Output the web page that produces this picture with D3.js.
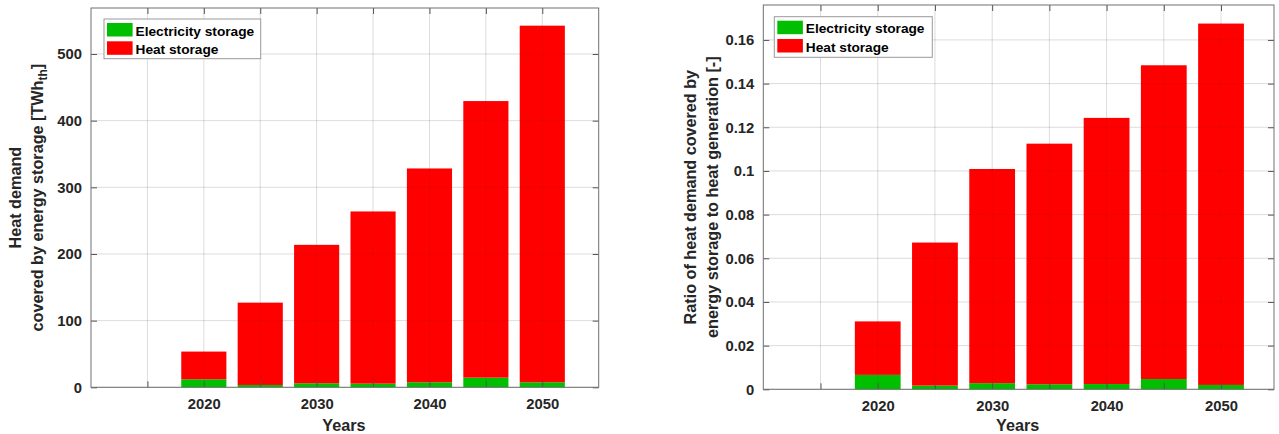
<!DOCTYPE html>
<html>
<head>
<meta charset="utf-8">
<script src="https://cdn.jsdelivr.net/npm/d3@7"></script>
<style>
  html, body { margin: 0; padding: 0; background: #fff; }
  svg { display: block; font-family: "Liberation Sans", Arial, sans-serif; }
  .tick-label { font-weight: bold; fill: #262626; font-size: 14.8px; }
  .axis-title { font-weight: bold; fill: #262626; font-size: 16.2px; }
  .legend-text { font-weight: bold; fill: #000; font-size: 13.7px; }
</style>
</head>
<body>
<svg id="chart" width="1279" height="434"></svg>
<script>
// ---------- data ----------
const years = [2020, 2025, 2030, 2035, 2040, 2045, 2050];
const seriesNames = ["Electricity storage", "Heat storage"];
const seriesColors = ["#00bf00", "#ff0000"];

// Left chart: heat demand covered by energy storage [TWh_th]
const leftElectricity = [12, 3.5, 6, 5.5, 7.5, 14.5, 7.5];
const leftHeat = [41.6, 123.5, 207.7, 258.3, 320.8, 414.9, 535];
const leftYTicks = [0, 100, 200, 300, 400, 500];
const leftYTickLabels = ["0", "100", "200", "300", "400", "500"];

// Right chart: ratio to heat generation [-]
const rightElectricity = [0.0066, 0.0017, 0.0028, 0.0023, 0.0024, 0.0047, 0.0020];
const rightHeat = [0.0245, 0.0655, 0.0981, 0.1102, 0.1219, 0.1437, 0.1655];
const rightYTicks = [0, 0.02, 0.04, 0.06, 0.08, 0.1, 0.12, 0.14, 0.16];
const rightYTickLabels = ["0", "0.02", "0.04", "0.06", "0.08", "0.1", "0.12", "0.14", "0.16"];

const xTicks = [2015, 2020, 2025, 2030, 2035, 2040, 2045, 2050];
const xTickLabels = ["", "2020", "", "2030", "", "2040", "", "2050"];

const svg = d3.select("#chart");

function drawPanel(cfg) {
  const g = svg.append("g");
  const x = d3.scaleLinear().domain(cfg.xDomain).range([cfg.left, cfg.right]);
  const y = d3.scaleLinear().domain(cfg.yDomain).range([cfg.bottom, cfg.top]);
  const barW = (x(2025) - x(2020)) * 0.8;

  const rows = years.map((yr, i) => ({ year: yr, e: cfg.elec[i], h: cfg.heat[i] }));
  const stack = d3.stack().keys(["e", "h"])(rows);

  g.append("rect").attr("x", cfg.left).attr("y", cfg.top)
    .attr("width", cfg.right - cfg.left).attr("height", cfg.bottom - cfg.top)
    .attr("fill", "#fff");

  function grid(op) {
    const gg = g.append("g");
    xTicks.forEach(t => {
      gg.append("line").attr("x1", x(t)).attr("x2", x(t))
        .attr("y1", cfg.top).attr("y2", cfg.bottom)
        .attr("stroke", "#262626").attr("stroke-opacity", op).attr("stroke-width", 1);
    });
    cfg.yTicks.forEach(t => {
      gg.append("line").attr("x1", cfg.left).attr("x2", cfg.right)
        .attr("y1", y(t)).attr("y2", y(t))
        .attr("stroke", "#262626").attr("stroke-opacity", op).attr("stroke-width", 1);
    });
  }
  grid(0.09);

  stack.forEach((layer, li) => {
    g.append("g").selectAll("rect").data(layer).join("rect")
      .attr("x", d => x(d.data.year) - barW / 2)
      .attr("width", barW)
      .attr("y", d => y(d[1]))
      .attr("height", d => y(d[0]) - y(d[1]))
      .attr("fill", seriesColors[li]);
  });

  grid(0.07);

  const tickLen = 6;
  const xAxis = d3.axisBottom(x).tickValues(xTicks)
    .tickFormat((d, i) => xTickLabels[i]).tickSizeInner(-tickLen).tickSizeOuter(0);
  const xg = g.append("g").attr("transform", `translate(0,${cfg.bottom})`).call(xAxis);
  const yAxis = d3.axisLeft(y).tickValues(cfg.yTicks)
    .tickFormat((d, i) => cfg.yLabels[i]).tickSizeInner(-tickLen).tickSizeOuter(0);
  const yg = g.append("g").attr("transform", `translate(${cfg.left},0)`).call(yAxis);
  const xTop = g.append("g").attr("transform", `translate(0,${cfg.top})`)
    .call(d3.axisTop(x).tickValues(xTicks).tickFormat("").tickSizeInner(-tickLen).tickSizeOuter(0));
  const yRight = g.append("g").attr("transform", `translate(${cfg.right},0)`)
    .call(d3.axisRight(y).tickValues(cfg.yTicks).tickFormat("").tickSizeInner(-tickLen).tickSizeOuter(0));

  [xg, yg, xTop, yRight].forEach(a => {
    a.select(".domain").remove();
    a.selectAll(".tick line").attr("stroke", "#555").attr("stroke-width", 1);
    a.selectAll(".tick text").attr("class", "tick-label").attr("fill", "#262626").attr("font-family", null).attr("font-size", null);
  });
  xg.selectAll(".tick text").attr("dy", null).attr("y", 22);
  yg.selectAll(".tick text").attr("x", -9);

  g.append("rect").attr("x", cfg.left).attr("y", cfg.top)
    .attr("width", cfg.right - cfg.left).attr("height", cfg.bottom - cfg.top)
    .attr("fill", "none").attr("stroke", "#707070").attr("stroke-width", 1);

  g.append("text").attr("class", "axis-title").attr("text-anchor", "middle")
    .attr("x", (cfg.left + cfg.right) / 2 - 1).attr("y", 431).text("Years");

  const cy = (cfg.top + cfg.bottom) / 2;
  g.append("text").attr("class", "axis-title").attr("text-anchor", "middle")
    .attr("transform", `translate(${cfg.yl1},${cy}) rotate(-90)`).text(cfg.yTitle1);
  const t2 = g.append("text").attr("class", "axis-title").attr("text-anchor", "middle")
    .attr("transform", `translate(${cfg.yl2},${cy}) rotate(-90)`);
  cfg.yTitle2(t2);

  const L = cfg.legend;
  const lg = g.append("g");
  lg.append("rect").attr("x", L.x).attr("y", L.y).attr("width", L.w).attr("height", L.h)
    .attr("fill", "#fff").attr("stroke", "#999").attr("stroke-width", 1);
  seriesNames.forEach((name, i) => {
    lg.append("rect").attr("x", L.x + 3).attr("y", L.y + 4 + i * 18.3)
      .attr("width", 25.6).attr("height", 13.5).attr("fill", seriesColors[i]);
    lg.append("text").attr("class", "legend-text")
      .attr("x", L.x + 31.5).attr("y", L.y + 16.5 + i * 18.3).text(name);
  });
}

drawPanel({
  left: 91, right: 598.7, top: 8, bottom: 387.3,
  xDomain: [2010, 2055], yDomain: [0, 569],
  elec: leftElectricity, heat: leftHeat,
  yTicks: leftYTicks, yLabels: leftYTickLabels,
  yl1: 20.7, yl2: 43.2,
  yTitle1: "Heat demand",
  yTitle2: t => {
    t.append("tspan").text("covered by energy storage [TWh");
    t.append("tspan").attr("font-size", "12px").attr("dy", 4).text("th");
    t.append("tspan").attr("dy", -4).text("]");
  },
  legend: { x: 104, y: 19, w: 156.7, h: 39.7 }
});

drawPanel({
  left: 763.3, right: 1274, top: 5, bottom: 389.3,
  xDomain: [2010, 2054.63], yDomain: [0, 0.176],
  elec: rightElectricity, heat: rightHeat,
  yTicks: rightYTicks, yLabels: rightYTickLabels,
  yl1: 695.5, yl2: 717.5,
  yTitle1: "Ratio of heat demand covered by",
  yTitle2: t => { t.text("energy storage to heat generation [-]"); },
  legend: { x: 774.3, y: 16.7, w: 158, h: 40.6 }
});
</script>
</body>
</html>
